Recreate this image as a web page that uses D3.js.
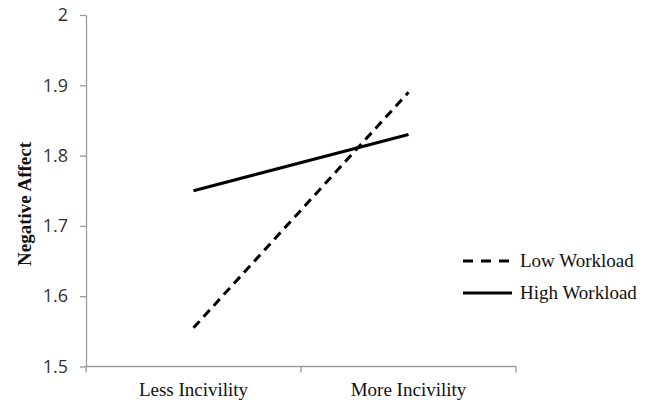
<!DOCTYPE html>
<html>
<head>
<meta charset="utf-8">
<script src="https://cdn.jsdelivr.net/npm/d3@7"></script>
<style>
  body { margin: 0; background: #fff; }
  svg { display: block; }
</style>
</head>
<body>
<div id="chart"></div>
<script>
const categories = ["Less Incivility", "More Incivility"];
const lowWorkload = [1.555, 1.89];
const highWorkload = [1.75, 1.83];
const yTicks = [1.5, 1.6, 1.7, 1.8, 1.9, 2];
const seriesNames = ["Low Workload", "High Workload"];

const width = 657,
    height = 400,
    plotLeft = 86,
    plotRight = 516,
    plotTop = 15,
    plotBottom = 366.5;

const svg = d3.select("#chart")
    .append("svg")
    .attr("width", width)
    .attr("height", height);

const x = d3.scaleBand().domain(categories).range([plotLeft, plotRight]);
const y = d3.scaleLinear().domain([1.5, 2]).range([plotBottom, plotTop]);

// y axis
const yAxis = svg.append("g")
    .attr("transform", `translate(${plotLeft},0)`)
    .call(d3.axisLeft(y).tickValues(yTicks).tickSize(6).tickSizeOuter(0)
        .tickFormat(d => d === 2 ? "2" : d3.format(".1f")(d)));
yAxis.select(".domain").attr("stroke", "#9a9a9a").attr("stroke-width", 1.3);
yAxis.selectAll(".tick line").attr("stroke", "#9a9a9a").attr("stroke-width", 1.3);
yAxis.selectAll(".tick text")
    .attr("x", -18)
    .attr("fill", "#333")
    .style("font-family", "'Open Sans', sans-serif")
    .style("font-size", "18px");

// x axis
const xAxis = svg.append("g")
    .attr("transform", `translate(0,${plotBottom})`);
xAxis.append("line")
    .attr("x1", plotLeft).attr("x2", plotRight)
    .attr("stroke", "#9a9a9a").attr("stroke-width", 1.3);
const xEdges = [plotLeft, ...categories.map(c => x(c) + x.bandwidth())];
xAxis.selectAll(".xtick")
    .data(xEdges)
    .enter()
    .append("line")
    .attr("x1", d => d).attr("x2", d => d)
    .attr("y1", 0).attr("y2", 6)
    .attr("stroke", "#9a9a9a").attr("stroke-width", 1.3);
xAxis.selectAll(".xlabel")
    .data(categories)
    .enter()
    .append("text")
    .attr("x", d => x(d) + x.bandwidth() / 2)
    .attr("y", 29.5)
    .attr("text-anchor", "middle")
    .attr("fill", "#111")
    .style("font-family", "'Liberation Serif', 'Times New Roman', serif")
    .style("font-size", "19px")
    .text(d => d);

// y title
svg.append("text")
    .attr("transform", `translate(31,204) rotate(-90)`)
    .attr("text-anchor", "middle")
    .attr("fill", "#111")
    .style("font-family", "'Liberation Serif', 'Times New Roman', serif")
    .style("font-size", "19px")
    .style("font-weight", "bold")
    .text("Negative Affect");

// lines
const line = d3.line()
    .x((d, i) => x(categories[i]) + x.bandwidth() / 2)
    .y(d => y(d));

svg.append("path")
    .datum(lowWorkload)
    .attr("d", line)
    .attr("fill", "none")
    .attr("stroke", "#000")
    .attr("stroke-width", 3)
    .attr("stroke-dasharray", "9,6");

svg.append("path")
    .datum(highWorkload)
    .attr("d", line)
    .attr("fill", "none")
    .attr("stroke", "#000")
    .attr("stroke-width", 3);

// legend
const legend = svg.append("g");
const legendY = [261, 293];
seriesNames.forEach((name, i) => {
    legend.append("line")
        .attr("x1", 463).attr("x2", 512)
        .attr("y1", legendY[i]).attr("y2", legendY[i])
        .attr("stroke", "#000")
        .attr("stroke-width", 3)
        .attr("stroke-dasharray", i === 0 ? "10,8" : null);
    legend.append("text")
        .attr("x", 520)
        .attr("y", legendY[i] + 6)
        .attr("fill", "#111")
        .style("font-family", "'Liberation Serif', 'Times New Roman', serif")
        .style("font-size", "19px")
        .text(name);
});
</script>
</body>
</html>
